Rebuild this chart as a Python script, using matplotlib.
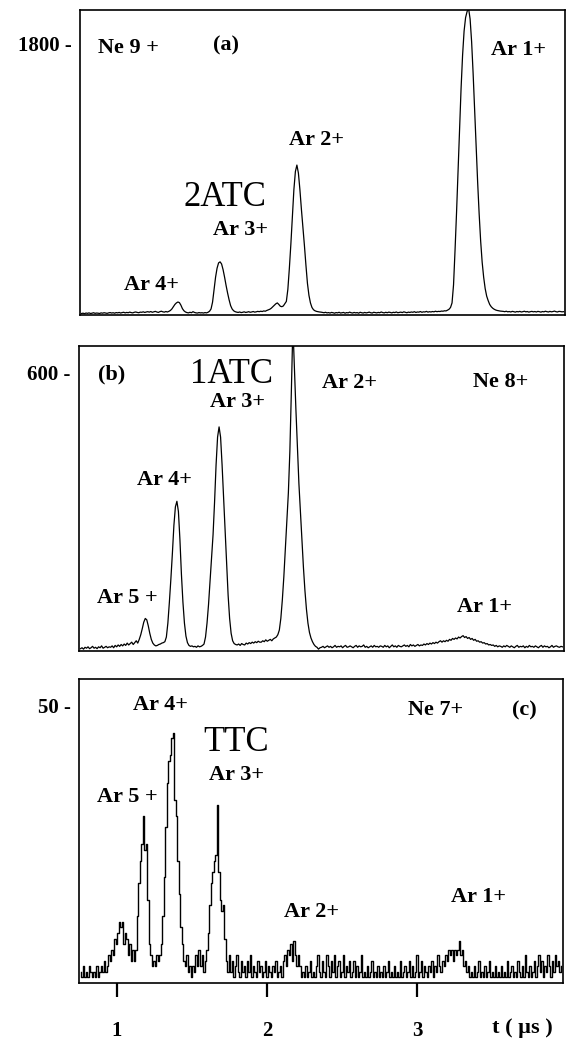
import numpy as np
import matplotlib.pyplot as plt

# ------------------------
# Data (time grid in microseconds, signal)
# ------------------------
t = np.round(np.arange(0.76, 3.965, 0.01), 2)   # 0.76 ... 3.96, 321 points

# panel (a) : 2ATC
y_a = [
    10, 12, 9, 13, 11, 14, 10, 12, 15, 11, 13, 12, 10, 14, 12, 15, 13, 11, 14, 16,
    13, 15, 12, 16, 14, 17, 13, 16, 18, 14, 17, 15, 19, 16, 14, 18, 20, 17, 15, 19,
    18, 21, 17, 20, 22, 19, 23, 18, 21, 24, 20, 17, 22, 25, 21, 19, 23, 20, 24, 30,
    40, 55, 70, 80, 86, 82, 65, 42, 28, 20, 16, 14, 18, 15, 22, 17, 14, 13, 16, 14,
    15, 13, 16, 14, 18, 25, 40, 85, 165, 250, 310, 345, 352, 338, 300, 250, 195, 145, 100, 62,
    40, 28, 22, 19, 17, 20, 16, 18, 21, 17, 19, 22, 18, 20, 23, 19, 21, 24, 22, 25,
    23, 27, 25, 30, 34, 38, 45, 55, 65, 74, 80, 70, 58, 55, 60, 75, 90, 170, 310, 470,
    650, 830, 950, 993, 940, 830, 700, 580, 460, 330, 210, 130, 80, 50, 35, 28, 24, 22, 20, 19,
    17, 15, 18, 14, 16, 13, 17, 15, 12, 16, 14, 18, 13, 15, 17, 12, 16, 14, 19, 15,
    13, 17, 14, 16, 12, 18, 15, 13, 17, 14, 16, 19, 15, 13, 18, 16, 14, 17, 15, 20,
    16, 14, 18, 15, 19, 17, 14, 18, 16, 20, 15, 17, 19, 16, 21, 18, 15, 19, 17, 20,
    18, 22, 17, 20, 19, 23, 18, 21, 20, 24, 19, 22, 20, 23, 21, 25, 22, 24, 23, 26,
    25, 28, 27, 32, 38, 50, 80, 200, 430, 680, 950, 1230, 1500, 1720, 1880, 1970, 2010, 2030, 1960, 1810,
    1600, 1360, 1110, 880, 670, 490, 350, 250, 175, 125, 95, 70, 55, 45, 38, 33, 30, 28, 26, 25,
    24, 22, 25, 21, 23, 20, 24, 22, 19, 23, 21, 24, 20, 22, 25, 21, 23, 19, 22, 24,
    21, 23, 20, 24, 22, 19, 23, 21, 25, 22, 20, 24, 21, 23, 26, 22, 20, 24, 23, 21,
    22,
]

# panel (b) : 1ATC
y_b = [
    5, 7, 4, 8, 6, 9, 5, 7, 10, 6, 8, 5, 9, 7, 11, 6, 8, 10, 7, 9,
    8, 11, 7, 12, 9, 13, 10, 14, 11, 15, 12, 17, 13, 16, 19, 14, 18, 22, 17, 25,
    35, 48, 62, 70, 67, 54, 38, 25, 17, 13, 11, 12, 14, 15, 17, 18, 20, 30, 60, 105,
    155, 210, 270, 310, 322, 300, 240, 165, 105, 60, 32, 18, 12, 10, 11, 9, 10, 8, 11, 9,
    10, 12, 15, 30, 60, 100, 150, 200, 250, 320, 400, 460, 482, 460, 400, 330, 260, 190, 120, 70,
    38, 22, 16, 14, 13, 15, 12, 16, 14, 13, 17, 15, 18, 16, 19, 17, 20, 18, 21, 19,
    19, 22, 20, 24, 21, 23, 25, 22, 26, 28, 30, 35, 45, 70, 110, 160, 220, 280, 340, 430,
    560, 700, 610, 520, 440, 360, 300, 240, 180, 130, 90, 60, 40, 28, 20, 14, 10, 8, 4, 7,
    8, 10, 7, 9, 11, 8, 10, 7, 9, 12, 8, 10, 9, 11, 7, 10, 12, 8, 9, 11,
    9, 7, 10, 12, 8, 11, 9, 10, 13, 8, 10, 7, 9, 11, 8, 12, 9, 10, 8, 11,
    10, 8, 12, 9, 11, 7, 10, 13, 9, 11, 8, 12, 10, 9, 11, 13, 10, 12, 9, 14,
    11, 13, 10, 12, 14, 11, 13, 12, 15, 13, 16, 14, 17, 15, 18, 16, 19, 17, 20, 22,
    19, 22, 20, 23, 21, 25, 23, 27, 25, 28, 26, 30, 28, 31, 33, 29, 31, 27, 29, 25,
    27, 23, 25, 21, 22, 19, 20, 17, 18, 15, 16, 13, 14, 12, 13, 10, 12, 9, 11, 10,
    8, 11, 9, 12, 10, 8, 11, 9, 7, 10, 12, 8, 10, 9, 11, 7, 10, 8, 12, 9,
    10, 8, 11, 9, 7, 10, 12, 8, 11, 9, 10, 7, 9, 12, 8, 10, 11, 9, 8, 10,
    9,
]

# panel (c) : TTC
y_c = [
    2, 1, 3, 1, 2, 1, 3, 2, 1, 2, 1, 3, 1, 2, 3, 2, 4, 2, 3, 5,
    4, 6, 5, 8, 7, 9, 11, 10, 11, 7, 9, 8, 5, 7, 4, 6, 4, 6, 12, 18,
    22, 25, 30, 24, 25, 15, 7, 5, 3, 4, 3, 5, 4, 5, 7, 12, 19, 28, 36, 40,
    41, 44, 45, 33, 30, 22, 16, 10, 7, 4, 3, 5, 2, 3, 1, 3, 2, 5, 3, 6,
    3, 5, 2, 4, 6, 9, 14, 18, 20, 22, 23, 32, 20, 15, 13, 14, 8, 4, 2, 5,
    2, 4, 1, 3, 5, 2, 1, 4, 2, 3, 1, 4, 2, 5, 1, 3, 2, 1, 4, 2,
    3, 1, 2, 4, 1, 3, 2, 1, 3, 2, 4, 1, 2, 3, 1, 4, 5, 3, 6, 5,
    7, 4, 7.5, 5, 3, 5, 3, 1, 2, 1, 3, 1, 2, 4, 1, 2, 1, 3, 5, 2,
    1, 4, 2, 1, 5, 3, 1, 4, 2, 5, 1, 3, 4, 1, 2, 5, 1, 3, 2, 4,
    1, 2, 4, 1, 3, 1, 2, 5, 1, 2, 1, 3, 1, 2, 4, 1, 2, 1, 3, 1,
    2, 1, 3, 1, 2, 4, 1, 2, 1, 3, 1, 2, 1, 4, 1, 2, 3, 1, 2, 4,
    1, 3, 1, 2, 5, 1, 2, 4, 1, 3, 2, 1, 3, 2, 4, 1, 3, 2, 5, 3,
    2, 4, 3, 5, 4, 6, 5, 6, 4, 6, 5, 6, 7.5, 5, 6, 3, 4, 2, 3, 1,
    2, 1, 3, 1, 2, 4, 1, 2, 1, 3, 1, 2, 4, 1, 2, 1, 3, 1, 2, 1,
    3, 1, 2, 1, 4, 1, 2, 3, 1, 2, 1, 4, 2, 1, 3, 1, 5, 2, 1, 3,
    1, 2, 4, 1, 3, 5, 2, 4, 1, 3, 2, 5, 3, 1, 4, 2, 5, 3, 4, 2,
    3,
]

y_ticks = [1800, 600, 50]
y_tops = [2020, 656, 54.7]
x_ticks = [1, 2, 3]

# labels: (text, t, y)
labels_a = [("Ne 9 +", 0.867, 1767), ("Ar 4+", 1.04, 199), ("Ar 3+", 1.63, 563),
            ("Ar 2+", 2.136, 1158), ("Ar 1+", 3.48, 1754)]
labels_b = [("Ar 5 +", 0.867, 114), ("Ar 4+", 1.133, 368), ("Ar 3+", 1.618, 536),
            ("Ar 2+", 2.36, 576), ("Ne 8+", 3.365, 579), ("Ar 1+", 3.257, 95)]
labels_c = [("Ar 5 +", 0.867, 33.5), ("Ar 4+", 1.107, 50), ("Ar 3+", 1.618, 37.4),
            ("Ar 2+", 2.116, 12.8), ("Ar 1+", 3.224, 15.5), ("Ne 7+", 2.94, 49.1)]

# ------------------------
# Figure
# ------------------------
plt.rcParams['font.family'] = ['Liberation Serif', 'DejaVu Serif']
fig = plt.figure(figsize=(5.67, 10.42), dpi=100)

W, H = 567, 1042
boxes = [(80, 10, 565, 315), (79, 346, 564, 651), (79, 679, 563, 983)]
axes = []
for (l, top, r, b) in boxes:
    axes.append(fig.add_axes([l / W, 1 - b / H, (r - l) / W, (b - top) / H]))

series = [y_a, y_b, y_c]
all_labels = [labels_a, labels_b, labels_c]
tags = [("(a)", 1.63, 1787), ("(b)", 0.874, 594), ("(c)", 3.63, 49.1)]
names = [("2ATC", 1.44, 781), ("1ATC", 1.485, 594), ("TTC", 1.578, 43.2)]

for i, ax in enumerate(axes):
    if i == 2:
        ax.plot(t, series[i], color='black', lw=1.0, drawstyle='steps-mid')
    else:
        ax.plot(t, series[i], color='black', lw=0.9)
    ax.set_xlim(0.75, 3.97)
    ax.set_ylim(0, y_tops[i])
    for s in ax.spines.values():
        s.set_linewidth(1.2)
    ax.set_yticks([y_ticks[i]])
    ax.set_yticklabels([f"{y_ticks[i]} -"], fontsize=15, fontweight='bold')
    ax.tick_params(axis='y', length=0, pad=6)
    for txt, tx, ty in all_labels[i]:
        ax.text(tx, ty, txt, fontsize=16, fontweight='bold', ha='left', va='center')
    tg = tags[i]
    ax.text(tg[1], tg[2], tg[0], fontsize=16, fontweight='bold', ha='left', va='center')
    nm = names[i]
    ax.text(nm[1], nm[2], nm[0], fontsize=25, ha='left', va='center')
    if i < 2:
        ax.set_xticks([])
    else:
        ax.set_xticks(x_ticks)
        ax.set_xticklabels([str(v) for v in x_ticks], fontsize=15, fontweight='bold')
        ax.tick_params(axis='x', direction='out', length=10, width=1.6, pad=17)

fig.text(492 / W, 1 - 1028 / H, "t ( µs )", fontsize=16, fontweight='bold',
         ha='left', va='center')

plt.savefig("out.png", dpi=100)
